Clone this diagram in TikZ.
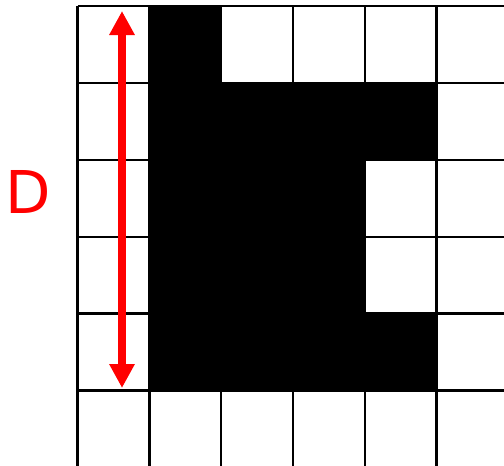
\documentclass[tikz,border=0pt]{standalone}
\usepackage{xcolor}
\usepackage{fontspec}
\usepackage{tikz}
\usetikzlibrary{arrows.meta, positioning}
\newfontfamily\lblfont{DejaVu Sans}

\begin{document}
\begin{tikzpicture}[x=1pt, y=-1pt,
            cell/.style={fill=black},
            gridln/.style={draw=black, line width=2.4pt},
            dim/.style={draw=red, line width=8pt,
                    {Triangle[length=24pt,width=24pt]}-{Triangle[length=24pt,width=24pt]}},
            lbl/.style={text=red, inner sep=0pt, font=\lblfont\fontsize{59}{59}\selectfont}
            ]
            \useasboundingbox (0,0) rectangle (504,466);
            \clip (0,0) rectangle (504,466);

            %% ---- Filled cells (column, row) ----
            \foreach \c/\r in {1/0, 1/1,2/1,3/1,4/1, 1/2,2/2,3/2, 1/3,2/3,3/3, 1/4,2/4,3/4,4/4}
                \fill[cell] ({77.5+71.8*\c},{6+76.9*\r}) rectangle ++(71.8,76.9);

            %% ---- Grid ----
            \foreach \i in {0,...,6}
                \draw[gridln] ({77.5+71.8*\i},6) -- ++(0,470);
            \foreach \j in {0,...,6}
                \draw[gridln] (77.5,{6+76.9*\j}) -- ++(440,0);

            %% ---- Dimension ----
            \coordinate (dtop) at (122,11);
            \coordinate (dbot) at (122,388);
            \draw[dim] (dtop) -- (dbot);
            \node[lbl] (dlbl) at (28,192) {D};
        \end{tikzpicture}
\end{document}
